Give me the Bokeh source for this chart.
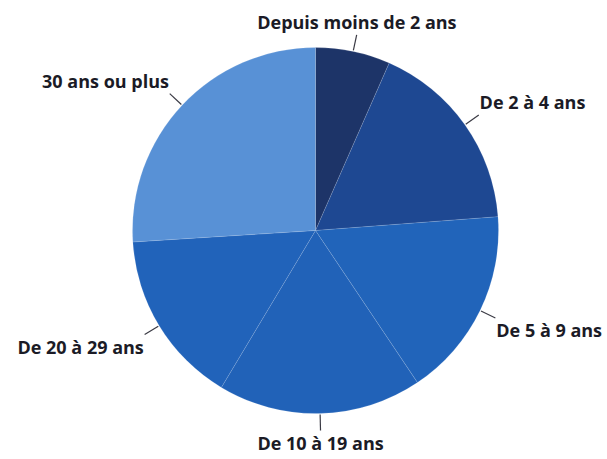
import math
from bokeh.plotting import figure
from bokeh.models import ColumnDataSource
from bokeh.core.properties import value
from bokeh.embed import file_html
from bokeh.resources import INLINE

categories = ["Depuis moins de 2 ans", "De 2 à 4 ans", "De 5 à 9 ans",
              "De 10 à 19 ans", "De 20 à 29 ans", "30 ans ou plus"]
shares = [6.6, 17.2, 16.8, 18.0, 15.4, 26.0]
colors = ["#1d3468", "#1e4892", "#2164ba", "#2162b8", "#2163ba", "#5891d6"]

W, H = 607, 459
cx, cy, r = 315, 229, 183

total = sum(shares)
starts, ends, mids = [], [], []
acc = 0.0
for s in shares:
    a0 = acc / total * 2 * math.pi
    acc += s
    a1 = acc / total * 2 * math.pi
    # clockwise from 12 o'clock -> bokeh angle
    starts.append(math.pi / 2 - a0)
    ends.append(math.pi / 2 - a1)
    mids.append(math.pi / 2 - (a0 + a1) / 2)

src = ColumnDataSource(dict(start=starts, end=ends, color=colors, cat=categories))

p = figure(width=W, height=H, x_range=(0, W), y_range=(0, H),
           output_backend="svg", toolbar_location=None, min_border=0)
p.axis.visible = False
p.grid.visible = False
p.outline_line_color = None
p.background_fill_color = "white"

p.wedge(x=cx, y=cy, radius=r, start_angle="start", end_angle="end",
        direction="clock", fill_color="color", line_color="white",
        line_alpha=0.12, line_width=1, source=src)

lx0, ly0, lx1, ly1 = [], [], [], []
tx, ty, al, bl = [], [], [], []
for m in mids:
    dx, dy = math.cos(m), math.sin(m)
    lx0.append(cx + (r + 1) * dx); ly0.append(cy + (r + 1) * dy)
    lx1.append(cx + (r + 17) * dx); ly1.append(cy + (r + 17) * dy)
    tx.append(cx + (r + 18) * dx); ty.append(cy + (r + 18) * dy)
    al.append("left" if dx > 0.3 else ("right" if dx < -0.3 else "center"))
    bl.append("bottom" if dy > 0 else "top")

p.segment(x0=lx0, y0=ly0, x1=lx1, y1=ly1, line_color="#3a3a44", line_width=1.2)

lab = ColumnDataSource(dict(x=tx, y=ty, t=categories, a=al, b=bl))
p.text(x="x", y="y", text="t", text_align="a", text_baseline="b",
       text_font=value("Open Sans"), text_font_style="bold",
       text_font_size="18px", text_color="#1b1b26", source=lab)

open("out.html", "w").write(file_html(p, INLINE))
